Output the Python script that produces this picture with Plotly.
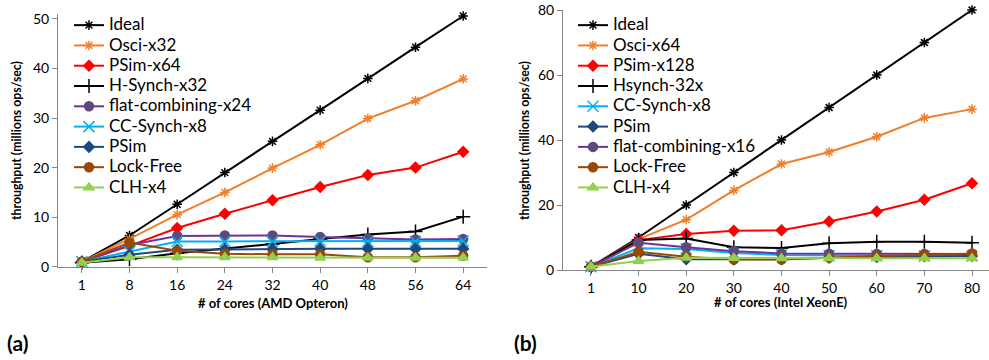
import plotly.graph_objects as go

# ---------------- data ----------------
cores_a = ["1", "8", "16", "24", "32", "40", "48", "56", "64"]
cores_b = ["1", "10", "20", "30", "40", "50", "60", "70", "80"]

a_ideal = [1, 6.3, 12.6, 19.0, 25.3, 31.6, 38.0, 44.3, 50.6]
a_osci = [1, 5.6, 10.5, 15.0, 19.9, 24.6, 29.9, 33.5, 37.9]
a_psim64 = [1, 4.2, 7.8, 10.7, 13.4, 16.1, 18.5, 20.0, 23.2]
a_hsynch = [0.8, 1.5, 2.7, 3.6, 4.6, 5.6, 6.5, 7.1, 10.1]
a_flat = [1, 4.4, 6.2, 6.3, 6.3, 6.0, 5.7, 5.5, 5.6]
a_cc = [1, 3.0, 5.1, 5.1, 5.1, 5.2, 5.1, 5.1, 5.2]
a_psim = [1, 2.4, 3.4, 3.5, 3.5, 3.6, 3.6, 3.6, 3.6]
a_lockfree = [1, 4.9, 3.2, 2.6, 2.5, 2.5, 1.9, 1.9, 2.2]
a_clh = [0.8, 1.9, 1.9, 1.9, 1.9, 1.8, 1.8, 1.8, 1.8]

b_ideal = [1, 10, 20, 30, 40, 50, 60, 70, 80]
b_osci = [1, 9.5, 15.5, 24.5, 32.6, 36.3, 41.0, 46.8, 49.5]
b_psim128 = [1, 9.2, 11.1, 12.1, 12.2, 14.9, 18.0, 21.6, 26.7]
b_hsynch = [1, 9.2, 9.7, 7.0, 6.8, 8.2, 8.7, 8.7, 8.4]
b_cc = [1, 6.7, 6.5, 5.2, 4.6, 4.4, 4.4, 4.3, 4.3]
b_psim = [1, 5.0, 3.3, 3.2, 3.3, 3.8, 4.0, 4.2, 4.3]
b_flat = [1, 8.4, 7.0, 5.8, 5.1, 5.0, 4.9, 4.9, 4.9]
b_lockfree = [1, 5.6, 4.1, 3.2, 3.2, 3.8, 4.3, 4.6, 5.1]
b_clh = [1, 2.8, 3.8, 3.7, 3.6, 3.6, 3.6, 3.6, 3.6]

FONT = "Lato"

# style table: name -> (line color, marker color, symbol, size)
STY = {
    "ideal": ("#000000", "#000000", "asterisk-open", 8),
    "osci": ("#F07F2A", "#F07F2A", "asterisk-open", 8),
    "psimx": ("#FF0000", "#FF0000", "diamond", 8),
    "hsynch": ("#000000", "#000000", "cross-thin-open", 10),
    "flat": ("#7030A0", "#60497A", "circle", 9),
    "cc": ("#00B0F0", "#00B0F0", "x-thin-open", 11),
    "psim": ("#1F497D", "#1F497D", "diamond", 8),
    "lockfree": ("#984807", "#984807", "circle", 9),
    "clh": ("#92D050", "#92D050", "triangle-up", 9),
}

fig = go.Figure()


def add(x, y, name, key, xa, ya, leg):
    lc, mc, sym, sz = STY[key]
    fig.add_trace(go.Scatter(
        x=x, y=y, name='<span style="font-size:17px">%s</span>' % name,
        mode="lines+markers",
        line=dict(color=lc, width=2),
        marker=dict(color=mc, symbol=sym, size=sz, line=dict(color=mc, width=1.5)),
        xaxis=xa, yaxis=ya, legend=leg, cliponaxis=False,
    ))


series_a = [
    (a_ideal, "Ideal", "ideal"), (a_osci, "Osci-x32", "osci"),
    (a_psim64, "PSim-x64", "psimx"), (a_hsynch, "H-Synch-x32", "hsynch"),
    (a_flat, "flat-combining-x24", "flat"), (a_cc, "CC-Synch-x8", "cc"),
    (a_psim, "PSim", "psim"), (a_lockfree, "Lock-Free", "lockfree"),
    (a_clh, "CLH-x4", "clh"),
]
series_b = [
    (b_ideal, "Ideal", "ideal"), (b_osci, "Osci-x64", "osci"),
    (b_psim128, "PSim-x128", "psimx"), (b_hsynch, "Hsynch-32x", "hsynch"),
    (b_cc, "CC-Synch-x8", "cc"), (b_psim, "PSim", "psim"),
    (b_flat, "flat-combining-x16", "flat"), (b_lockfree, "Lock-Free", "lockfree"),
    (b_clh, "CLH-x4", "clh"),
]
for y, n, k in series_a:
    add(cores_a, y, n, k, "x", "y", "legend")
for y, n, k in series_b:
    add(cores_b, y, n, k, "x2", "y2", "legend2")

W, H = 989, 360
AX = "#868686"
tickfont = dict(family=FONT, size=14, color="#000000")

xcommon = dict(type="category", showline=True, linecolor=AX, linewidth=1,
               ticks="outside", ticklen=5, tickcolor=AX, showgrid=False,
               zeroline=False, tickfont=tickfont, fixedrange=True, automargin=False)
ycommon = dict(showline=True, linecolor=AX, linewidth=1, ticks="outside",
               ticklen=5, tickcolor=AX, showgrid=False, zeroline=False,
               tickfont=tickfont, fixedrange=True, automargin=False)

legcommon = dict(bgcolor="rgba(0,0,0,0)", font=dict(family=FONT, size=13.3, color="#000"),
                 xanchor="left", yanchor="top", tracegroupgap=0, itemclick=False)

fig.update_layout(
    width=W, height=H,
    margin=dict(l=0, r=0, t=0, b=0, autoexpand=False),
    paper_bgcolor="white", plot_bgcolor="white",
    font=dict(family=FONT),
    xaxis=dict(domain=[58 / W, 487 / W], range=[-0.5, 8.5], anchor="y", **xcommon),
    yaxis=dict(domain=[1 - 266.7 / H, 1 - 14 / H], range=[0, 51], dtick=10,
               anchor="x", **ycommon),
    xaxis2=dict(domain=[563 / W, 1.0], range=[-0.587, 8.357], anchor="y2", **xcommon),
    yaxis2=dict(domain=[1 - 270 / H, 1 - 10 / H], range=[0, 80], dtick=20,
                anchor="x2", **ycommon),
    legend=dict(x=69 / W, y=1 - 10 / H, **legcommon),
    legend2=dict(x=573 / W, y=1 - 10 / H, **legcommon),
    showlegend=True,
    hovermode=False,
)

tfont = dict(family=FONT, size=13, color="#000")
yfont = dict(family=FONT, size=12.3, color="#000")
ann = [
    dict(text="<b>throughput (millions ops/sec)</b>", x=17 / W, y=1 - 141 / H, textangle=-90,
         font=yfont),
    dict(text="<b>throughput (millions ops/sec)</b>", x=525 / W, y=1 - 141 / H, textangle=-90,
         font=yfont),
    dict(text="<b># of cores (AMD Opteron)</b>", x=273 / W, y=1 - 302.5 / H, font=tfont),
    dict(text="<b># of cores (Intel XeonE)</b>", x=781 / W, y=1 - 301.7 / H, font=tfont),
    dict(text="<b>(a)</b>", x=17 / W, y=1 - 342 / H, font=dict(family=FONT, size=21, color="#000")),
    dict(text="<b>(b)</b>", x=525 / W, y=1 - 342 / H, font=dict(family=FONT, size=21, color="#000")),
]
for a in ann:
    a.update(xref="paper", yref="paper", showarrow=False, xanchor="center", yanchor="middle")
fig.update_layout(annotations=ann)

fig.write_html("out.html", config={"displayModeBar": False},
               post_script="document.body.style.margin='0';document.body.style.overflow='hidden';")
